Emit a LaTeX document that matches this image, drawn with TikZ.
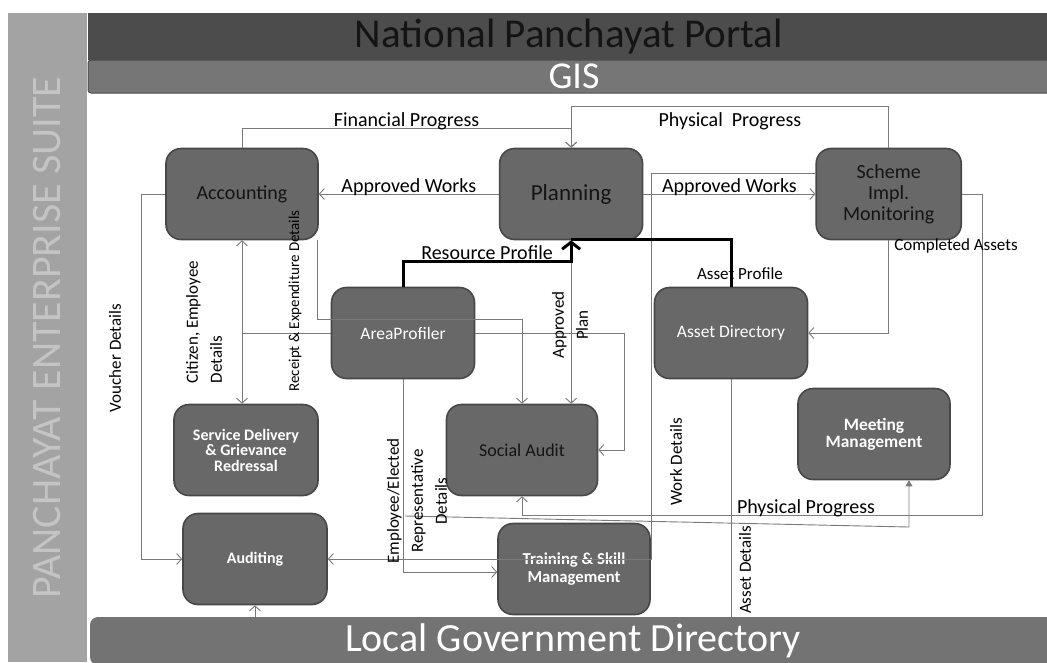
\documentclass[tikz,border=0pt]{standalone}
\usepackage{fontspec}
\setmainfont{Carlito}
\usepackage{xcolor}
\usepackage{tikz}
\usetikzlibrary{positioning, arrows.meta}
\definecolor{bandGray}{HTML}{A3A3A3}
\definecolor{bandText}{HTML}{C4C4C4}
\definecolor{barDark}{HTML}{4C4C4C}
\definecolor{barMid}{HTML}{767676}
\definecolor{barLow}{HTML}{737373}
\definecolor{boxFill}{HTML}{686868}
\definecolor{boxEdge}{HTML}{474747}
\definecolor{inkDark}{HTML}{141414}
\definecolor{flowGray}{HTML}{7A7A7A}
\tikzset{
  modbox/.style={rectangle, rounded corners=15pt, draw=boxEdge, fill=boxFill,
    line width=1.6pt, minimum width=148pt, minimum height=91pt,
    align=center, inner sep=3pt},
  darktext/.style={text=inkDark},
  lighttext/.style={text=white},
  flow/.style={draw=flowGray, line width=0.9pt,
    -{Straight Barb[length=5pt, width=11pt]}},
  plainflow/.style={draw=flowGray, line width=0.9pt},
  tipflow/.style={draw=flowGray, line width=0.9pt,
    -{Triangle[length=6pt, width=7pt]}},
  heavyflow/.style={draw=black, line width=3pt,
    -{Straight Barb[length=7pt, width=18pt]}},
  heavyline/.style={draw=black, line width=3pt},
  lbl/.style={font=\fontsize{20}{22}\selectfont, inner sep=0pt, text=black},
  slbl/.style={font=\fontsize{17}{19}\selectfont, inner sep=0pt, text=black},
  vlbl/.style={font=\fontsize{17}{24}\selectfont, rotate=90, inner sep=0pt,
    align=center, text=black},
}
\begin{document}
\begin{tikzpicture}[x=1pt, y=-1pt]
    \clip (0,0) rectangle (1047,662);
    \node[rotate=90, fill=bandGray, minimum width=649pt, minimum height=79pt,
      text=bandText, font=\fontsize{42}{44}\selectfont] (pes) at (47.5,337.5)
      {PANCHAYAT ENTERPRISE SUITE};
    \node[rectangle, fill=barDark, minimum width=962pt, minimum height=47pt,
      inner sep=0pt, text=inkDark, font=\fontsize{41}{45}\selectfont]
      (npp) at (569,36.5) {National Panchayat Portal};
    \node[rectangle, rounded corners=3pt, fill=barMid, draw=barDark,
      line width=1pt, minimum width=972pt, minimum height=33pt, inner sep=0pt,
      text=white, font=\fontsize{38}{40}\selectfont] (gis) at (574,76.5) {GIS};
    \node[rectangle, rounded corners=8pt, fill=barLow, minimum width=966pt,
      minimum height=48pt, inner sep=0pt, text=white,
      font=\fontsize{40}{44}\selectfont] (lgd) at (573,641)
      {Local Government Directory};

    \node[modbox, darktext, minimum width=152pt,
      font=\fontsize{20}{22}\selectfont] (acc) at (242,194) {Accounting};
    \node[modbox, darktext, minimum width=143pt,
      font=\fontsize{23}{25}\selectfont, right=180pt of acc] (plan) {Planning};
    \node[modbox, darktext, minimum width=145pt,
      font=\fontsize{20}{21}\selectfont, right=172pt of plan] (sim)
      {Scheme\\Impl.\\Monitoring};
    \node[modbox, lighttext, minimum width=143pt,
      font=\fontsize{17.5}{19}\selectfont] (ap) at (403,333) {AreaProfiler};
    \node[modbox, lighttext, minimum width=153pt,
      font=\fontsize{17.5}{19}\selectfont] (ad) at (731,333) {Asset Directory};
    \node[modbox, lighttext, minimum width=144pt,
      font=\bfseries\fontsize{16}{15.5}\selectfont] (sdg) at (246,450)
      {Service Delivery\\\& Grievance\\Redressal};
    \node[modbox, darktext, minimum width=151pt,
      font=\fontsize{18}{20}\selectfont] (sa) at (522,450) {Social Audit};
    \node[modbox, lighttext, minimum width=152pt,
      font=\bfseries\fontsize{17.4}{17}\selectfont] (mm) at (874,434)
      {Meeting\\Management};
    \node[modbox, lighttext, minimum width=144pt,
      font=\bfseries\fontsize{16}{18}\selectfont] (aud) at (255,559) {Auditing};
    \node[modbox, lighttext, minimum width=152pt,
      font=\bfseries\fontsize{16.7}{18}\selectfont] (tsm) at (574,569)
      {Training \& Skill\\Management};

    \coordinate (wdk) at (651,559);
    \coordinate (ppk) at (982,515);
    \coordinate (mmj) at (405,516);
    \coordinate (mmk) at (909,527);
    \coordinate (cek) at (acc.south |- ap.west);
    \coordinate (rek) at ([yshift=14pt]ap.center);

    \draw[flow] (acc.north) -- ++(0,-19)
      -| node[lbl, above=-2pt, pos=0.25] (lfin) {Financial Progress} (plan.north);
    \draw[flow] (sim.north) -- ++(0,-41)
      -| node[lbl, below=5pt, pos=0.25] (lphy) {Physical\ \ Progress} (plan.north);
    \draw[flow] (plan.west) -- node[lbl, above=-2pt] (law) {Approved Works} (acc.east);
    \draw[flow] (plan.east) -- node[lbl, above=-2pt] (lawr) {Approved Works} (sim.west);
    \draw[flow] ([yshift=21pt]sim.west) -| (wdk) -- (aud.east);
    \draw[flow] (sim.south) |- (ad.east);
    \draw[flow] (sim.east) -| (ppk) -| (sa.south);
    \draw[tipflow] (mmj) -- (mmk) -- ([xshift=35pt]mm.south);
    \draw[plainflow] (ad.south) -- (ad.south |- lgd.north);
    \draw[flow] (aud.south |- lgd.north) -- (aud.south);
    \draw[flow] (acc.west) -- ++(-24,0) |- (aud.west);
    \draw[flow] (ap.west) -- (cek) -- (acc.south);
    \draw[flow] (cek) -- (cek |- sdg.north);
    \draw[flow] ([xshift=-1pt]acc.south east) |- (rek -| sa.north) -- (sa.north);
    \draw[flow] (ap.east) -- ++(149,0) |- (sa.east);
    \draw[flow] (plan.south) -- (plan.south |- sa.north);
    \draw[flow] (ap.south) |- ([yshift=-3pt]tsm.west);
    \draw[heavyline] (ad.north) |- ([yshift=1pt]plan.south);
    \draw[heavyflow] (ap.north) -- ++(0,-25)
      -| node[lbl, above=1pt, pos=0.25] (lrp) {Resource Profile} (plan.south);

    \node[lbl, anchor=base] (lpp) at (806,513) {Physical Progress};
    \node[slbl, anchor=base] (lca) at (956,250) {Completed Assets};
    \node[slbl, anchor=base] (lasp) at (740,279) {Asset Profile};
    \node[vlbl] (lwd) at (676,462) {Work Details};
    \node[vlbl] (lasd) at (745,570) {Asset Details};
    \node[vlbl] (lvd) at (115,358) {Voucher Details};
    \node[vlbl, align=left] (lced) at (204,322) {Citizen, Employee\\Details};
    \node[vlbl, font=\fontsize{15}{17}\selectfont] (lred) at (295,301)
      {Receipt \& Expenditure Details};
    \node[vlbl] (lapl) at (570,325) {Approved\\Plan};
    \node[vlbl] (leer) at (417,501) {Employee/Elected\\Representative\\Details};
  \end{tikzpicture}
\end{document}
